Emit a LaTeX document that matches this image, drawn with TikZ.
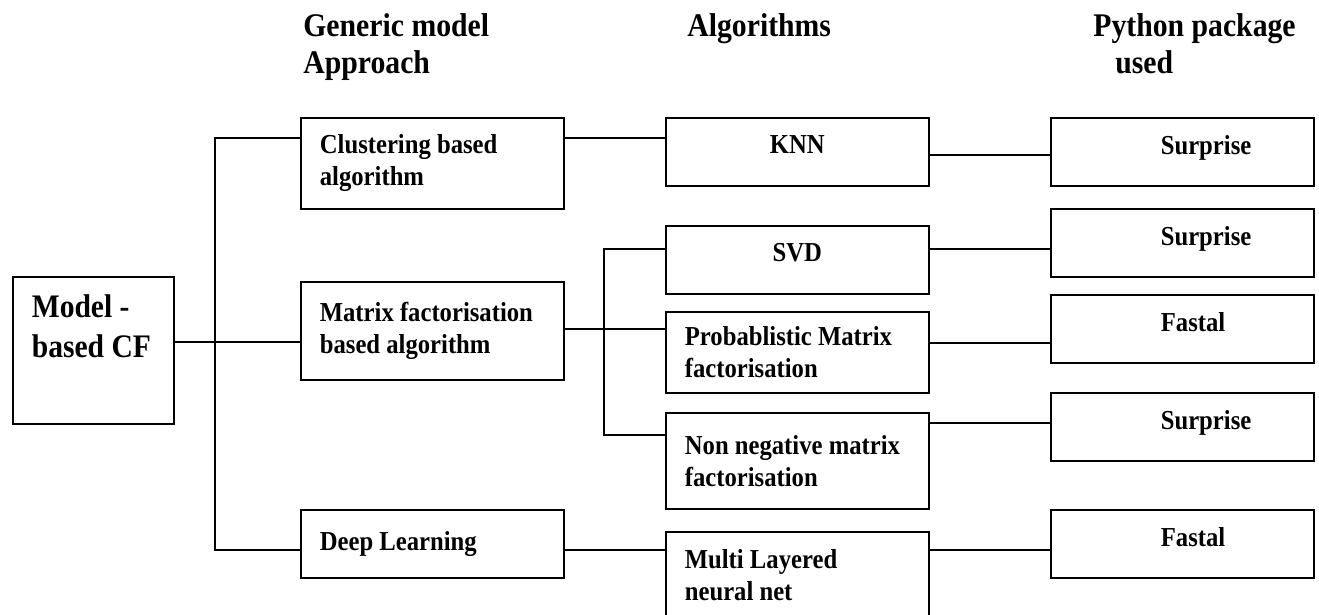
\documentclass[tikz,border=0pt]{standalone}
\usepackage{fontspec}
\newfontfamily\diafont{Liberation Serif}[FakeStretch=0.9]
\newcommand{\boxfont}{\diafont\bfseries\fontsize{15.6pt}{18.2pt}\selectfont}
\newcommand{\headfont}{\diafont\bfseries\fontsize{18.8pt}{21pt}\selectfont}
\newcommand{\cffont}{\diafont\bfseries\fontsize{18.7pt}{22.8pt}\selectfont}
\usetikzlibrary{positioning,calc}

\tikzset{
  box/.style={draw, line width=1pt, anchor=north west, minimum width=5.26cm, font=\boxfont},
  txtbox/.style={box, align=flush left, text width=4.5cm, inner xsep=0.38cm},
  algo/.style={box, align=center, minimum height=1.36cm, text depth=0.28cm},
  pkg/.style={box, align=flush left, text width=5.06cm, inner xsep=0.1cm, minimum height=1.36cm,
    text depth=0.28cm, execute at begin node={\hspace*{2.1cm}}},
  head/.style={anchor=north west, inner sep=0pt, align=left, font=\headfont},
  link/.style={line width=1pt}
}

\begin{document}
\begin{tikzpicture}[x=0.02cm, y=-0.02cm]
\useasboundingbox (0,0) rectangle (1319,615);

% column headings
\node[head] (hgen) at (303,13) {Generic model\\Approach};
\node[head] (halg) at (687,13) {Algorithms};
\node[head] (hpy) at (1093,13) {Python package\\\hspace*{0.44cm}used};

% root box
\node[box, minimum width=3.22cm, minimum height=2.94cm] (cf) at (12,276) {};
\node[anchor=north west, inner sep=0pt, align=left, font=\cffont] (cftext)
  at ([xshift=0.39cm, yshift=-0.37cm]cf.north west) {Model -\\based CF};

% approaches
\node[txtbox, minimum height=1.82cm] (clus) at (300,117) {Clustering based\\algorithm};
\node[txtbox, minimum height=1.96cm] (mat) at (300,281) {Matrix factorisation\\based algorithm};
\node[txtbox, minimum height=1.36cm] (deep) at (300,509) {Deep Learning};

% algorithms
\node[algo] (knn) at (665,117) {KNN};
\node[algo] (svd) at (665,225) {SVD};
\node[txtbox, minimum height=1.62cm] (pmf) at (665,311) {Probablistic Matrix\\factorisation};
\node[txtbox, minimum height=1.92cm] (nnmf) at (665,412) {Non negative matrix\\factorisation};
\node[txtbox, minimum height=1.74cm] (mlnn) at (665,531) {Multi Layered\\neural net};

% packages
\foreach \n/\y/\t in {p1/117/Surprise, p2/208/Surprise, p3/294/Fastal, p4/392/Surprise, p5/509/Fastal}
  \node[pkg] (\n) at (1050,\y) {\t};

% trunk from the root
\coordinate (ta) at (215,138);
\coordinate (tb) at (215,342);
\coordinate (tc) at (215,550);
\draw[link] (clus.west |- ta) -- (ta) -- (tc) -- (deep.west |- tc);
\draw[link] (cf.east |- tb) -- (mat.west |- tb);
\draw[link] (clus.east |- ta) -- (knn.west |- ta);
\draw[link] (deep.east |- tc) -- (mlnn.west |- tc);

% matrix factorisation branch
\coordinate (ba) at (604,249);
\coordinate (bb) at (604,329);
\coordinate (bc) at (604,435);
\draw[link] (svd.west |- ba) -- (ba) -- (bc) -- (nnmf.west |- bc);
\draw[link] (mat.east |- bb) -- (pmf.west |- bb);

% algorithm -> package
\foreach \a/\b/\y in {knn/p1/155, svd/p2/249, pmf/p3/343, nnmf/p4/423, mlnn/p5/550}
  \draw[link] (\a.east |- 0,\y) -- (\b.west |- 0,\y);
\end{tikzpicture}
\end{document}
